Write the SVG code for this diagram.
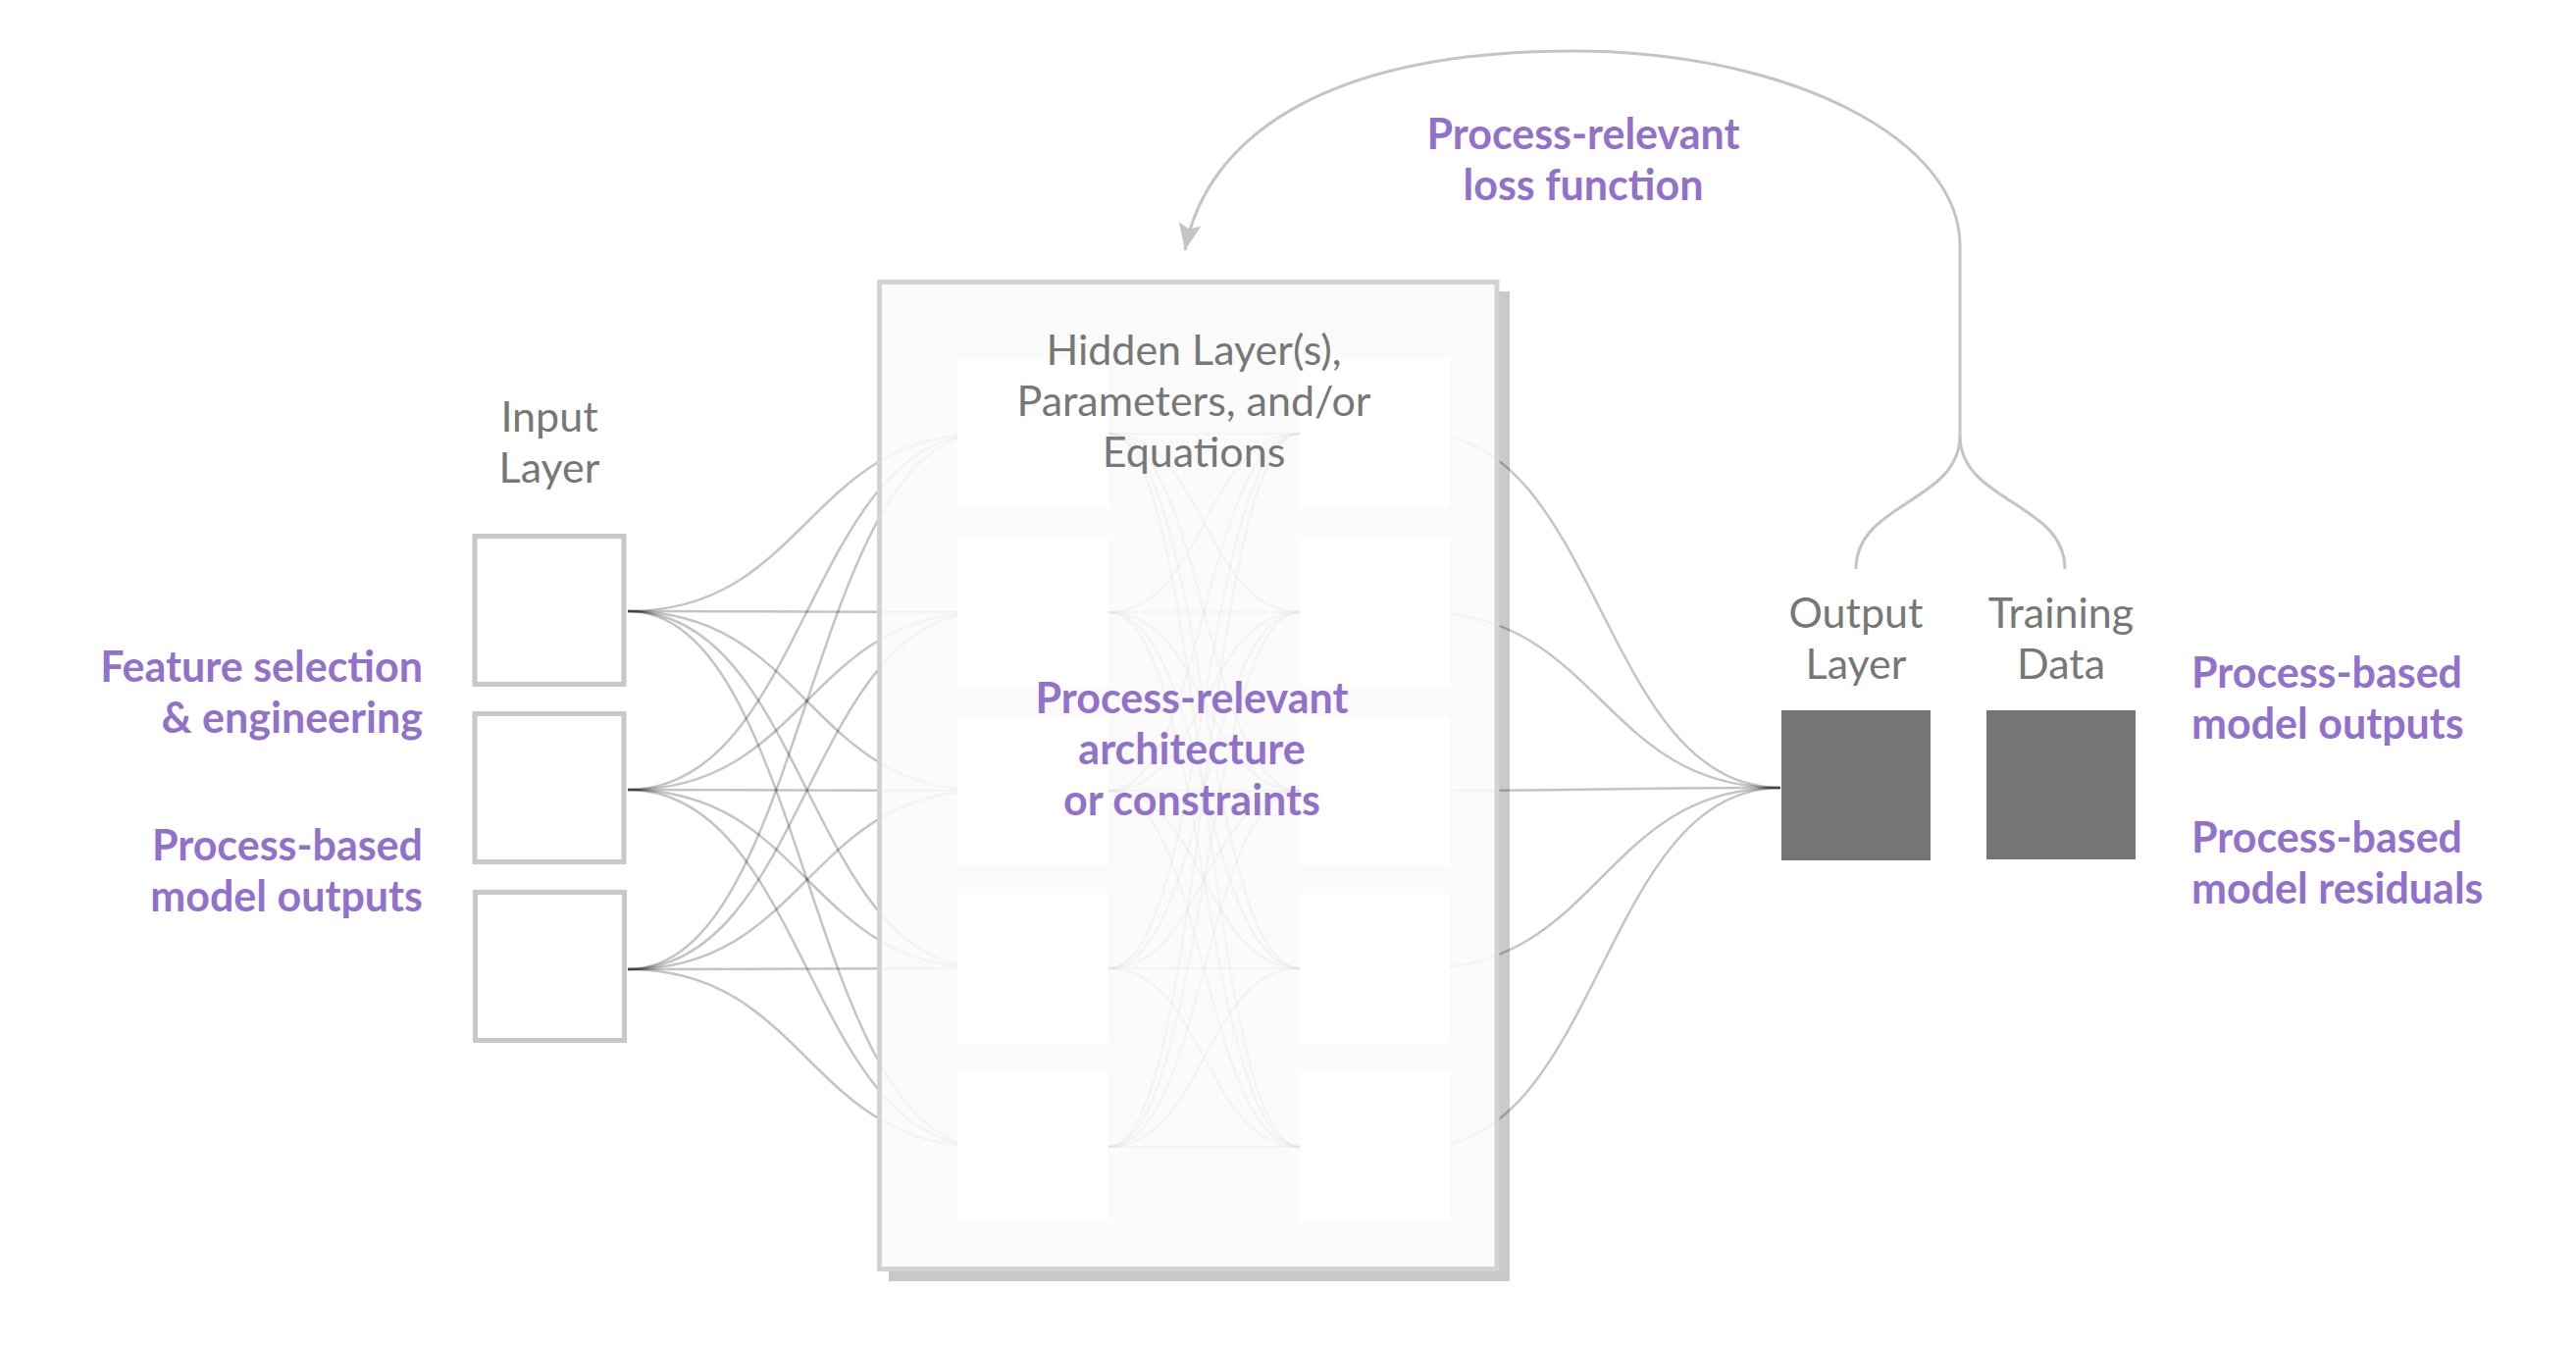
<svg xmlns="http://www.w3.org/2000/svg" width="2626" height="1372" viewBox="0 0 2626 1372">
<style>
.lbl{font-family:Lato,"Source Sans Pro","Open Sans",sans-serif;font-size:43px;fill:#777777}
.pur{font-family:Lato,"Open Sans",sans-serif;font-size:43px;font-weight:bold;fill:#9271cb}
.mid{text-anchor:middle}
.end{text-anchor:end}
.conn{fill:none;stroke:#000;stroke-opacity:0.23;stroke-width:2.5}
.loss{fill:none;stroke:#c4c4c4;stroke-width:3}
.inbox{fill:#ffffff;stroke:#c8c8c8;stroke-width:5}
.hnode{fill:#ffffff}
.outbox{fill:#757575}
</style>
<defs>
<marker id="arr" markerUnits="userSpaceOnUse" markerWidth="30" markerHeight="26" refX="27" refY="11.5" orient="auto">
<path d="M0,0 L27,11.5 L0,23 L5,11.5 Z" fill="#c4c4c4"/>
</marker>
</defs>
<rect width="2626" height="1372" fill="#ffffff"/>

<g id="hidden-shadow">
<rect x="906" y="297" width="633" height="1009" fill="#c9c9c9"/>
<rect x="896.5" y="287.5" width="629.5" height="1006" fill="#ffffff"/>
</g>

<g id="connectors">
<path class="conn" d="M640,623 C822.5,623 822.5,442 1005,442"/>
<path class="conn" d="M640,623 C822.5,623 822.5,624 1005,624"/>
<path class="conn" d="M640,623 C822.5,623 822.5,806 1005,806"/>
<path class="conn" d="M640,623 C822.5,623 822.5,987 1005,987"/>
<path class="conn" d="M640,623 C822.5,623 822.5,1169 1005,1169"/>
<path class="conn" d="M640,805 C822.5,805 822.5,442 1005,442"/>
<path class="conn" d="M640,805 C822.5,805 822.5,624 1005,624"/>
<path class="conn" d="M640,805 C822.5,805 822.5,806 1005,806"/>
<path class="conn" d="M640,805 C822.5,805 822.5,987 1005,987"/>
<path class="conn" d="M640,805 C822.5,805 822.5,1169 1005,1169"/>
<path class="conn" d="M640,988 C822.5,988 822.5,442 1005,442"/>
<path class="conn" d="M640,988 C822.5,988 822.5,624 1005,624"/>
<path class="conn" d="M640,988 C822.5,988 822.5,806 1005,806"/>
<path class="conn" d="M640,988 C822.5,988 822.5,987 1005,987"/>
<path class="conn" d="M640,988 C822.5,988 822.5,1169 1005,1169"/>

<path class="conn" d="M1130,442 C1227.5,442 1227.5,442 1325,442"/>
<path class="conn" d="M1130,442 C1227.5,442 1227.5,624 1325,624"/>
<path class="conn" d="M1130,442 C1227.5,442 1227.5,806 1325,806"/>
<path class="conn" d="M1130,442 C1227.5,442 1227.5,987 1325,987"/>
<path class="conn" d="M1130,442 C1227.5,442 1227.5,1169 1325,1169"/>
<path class="conn" d="M1130,624 C1227.5,624 1227.5,442 1325,442"/>
<path class="conn" d="M1130,624 C1227.5,624 1227.5,624 1325,624"/>
<path class="conn" d="M1130,624 C1227.5,624 1227.5,806 1325,806"/>
<path class="conn" d="M1130,624 C1227.5,624 1227.5,987 1325,987"/>
<path class="conn" d="M1130,624 C1227.5,624 1227.5,1169 1325,1169"/>
<path class="conn" d="M1130,806 C1227.5,806 1227.5,442 1325,442"/>
<path class="conn" d="M1130,806 C1227.5,806 1227.5,624 1325,624"/>
<path class="conn" d="M1130,806 C1227.5,806 1227.5,806 1325,806"/>
<path class="conn" d="M1130,806 C1227.5,806 1227.5,987 1325,987"/>
<path class="conn" d="M1130,806 C1227.5,806 1227.5,1169 1325,1169"/>
<path class="conn" d="M1130,987 C1227.5,987 1227.5,442 1325,442"/>
<path class="conn" d="M1130,987 C1227.5,987 1227.5,624 1325,624"/>
<path class="conn" d="M1130,987 C1227.5,987 1227.5,806 1325,806"/>
<path class="conn" d="M1130,987 C1227.5,987 1227.5,987 1325,987"/>
<path class="conn" d="M1130,987 C1227.5,987 1227.5,1169 1325,1169"/>
<path class="conn" d="M1130,1169 C1227.5,1169 1227.5,442 1325,442"/>
<path class="conn" d="M1130,1169 C1227.5,1169 1227.5,624 1325,624"/>
<path class="conn" d="M1130,1169 C1227.5,1169 1227.5,806 1325,806"/>
<path class="conn" d="M1130,1169 C1227.5,1169 1227.5,987 1325,987"/>
<path class="conn" d="M1130,1169 C1227.5,1169 1227.5,1169 1325,1169"/>

<path class="conn" d="M1449,442 C1632,442 1632,803 1815,803"/>
<path class="conn" d="M1449,624 C1632,624 1632,803 1815,803"/>
<path class="conn" d="M1449,806 C1632,806 1632,803 1815,803"/>
<path class="conn" d="M1449,987 C1632,987 1632,803 1815,803"/>
<path class="conn" d="M1449,1169 C1632,1169 1632,803 1815,803"/>
</g>

<g id="hidden-layer">
<rect x="896.5" y="287.5" width="629.5" height="1006" fill="#fafafa" fill-opacity="0.88" stroke="#d3d3d3" stroke-width="5"/>
<rect class="hnode" x="976" y="366" width="154" height="152"/>
<rect class="hnode" x="976" y="548" width="154" height="152"/>
<rect class="hnode" x="976" y="730" width="154" height="152"/>
<rect class="hnode" x="976" y="911" width="154" height="152"/>
<rect class="hnode" x="976" y="1093" width="154" height="152"/>
<rect class="hnode" x="1325" y="366" width="153" height="152"/>
<rect class="hnode" x="1325" y="548" width="153" height="152"/>
<rect class="hnode" x="1325" y="730" width="153" height="152"/>
<rect class="hnode" x="1325" y="911" width="153" height="152"/>
<rect class="hnode" x="1325" y="1093" width="153" height="152"/>
<text class="lbl mid" x="1217" y="372">Hidden Layer(s),</text>
<text class="lbl mid" x="1217" y="424">Parameters, and/or</text>
<text class="lbl mid" x="1217" y="476">Equations</text>
<text class="pur mid" x="1215" y="727">Process-relevant</text>
<text class="pur mid" x="1215" y="779">architecture</text>
<text class="pur mid" x="1215" y="831">or constraints</text>
</g>

<g id="input-layer">
<rect class="inbox" x="484" y="546.5" width="152" height="151"/>
<rect class="inbox" x="484" y="727.5" width="152" height="151"/>
<rect class="inbox" x="484.5" y="909.5" width="152" height="151"/>
<text class="lbl mid" x="560" y="440">Input</text>
<text class="lbl mid" x="560" y="492">Layer</text>
</g>

<g id="input-annotations">
<text class="pur end" x="431" y="695">Feature selection</text>
<text class="pur end" x="431" y="747">&amp; engineering</text>
<text class="pur end" x="431" y="877">Process-based</text>
<text class="pur end" x="431" y="929">model outputs</text>
</g>

<g id="output-layer">
<rect class="outbox" x="1816" y="724" width="152" height="153"/>
<text class="lbl mid" x="1892" y="640">Output</text>
<text class="lbl mid" x="1892" y="692">Layer</text>
</g>

<g id="training-data">
<rect class="outbox" x="2025" y="724" width="152" height="152"/>
<text class="lbl mid" x="2101" y="640">Training</text>
<text class="lbl mid" x="2101" y="692">Data</text>
</g>

<g id="output-annotations">
<text class="pur" x="2234" y="701">Process-based</text>
<text class="pur" x="2234" y="753">model outputs</text>
<text class="pur" x="2234" y="869">Process-based</text>
<text class="pur" x="2234" y="921">model residuals</text>
</g>

<g id="loss-feedback">
<path class="loss" d="M1998,444 V250 A394,198 0 0 0 1604,52 C1350,52 1230,140 1208,255" marker-end="url(#arr)"/>
<path class="loss" d="M1998,444 C1998,512 1892,512 1892,580"/>
<path class="loss" d="M1998,444 C1998,512 2105,512 2105,580"/>
<text class="pur mid" x="1614" y="152">Process-relevant</text>
<text class="pur mid" x="1614" y="204">loss function</text>
</g>
</svg>
